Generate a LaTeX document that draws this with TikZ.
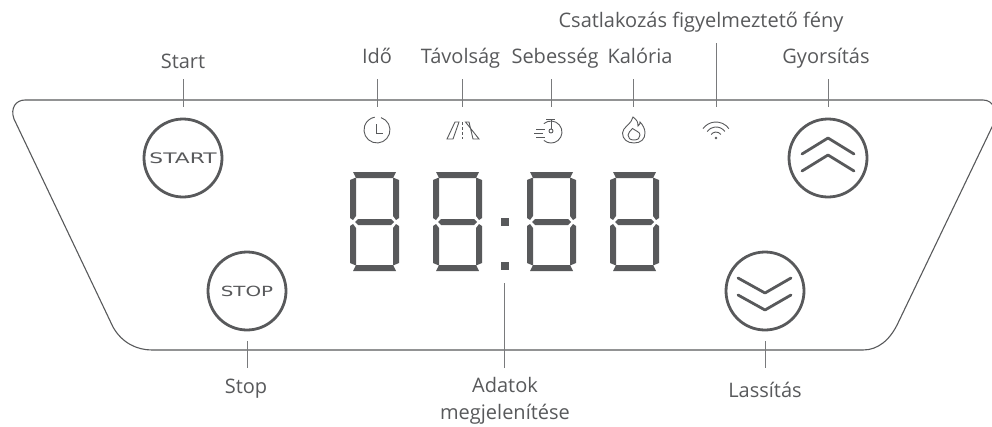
\documentclass[tikz,border=0pt]{standalone}
\usepackage{fontspec}
\setmainfont{Open Sans}
\usetikzlibrary{positioning, calc}
\definecolor{panelgray}{HTML}{58595B}

\tikzset{
    lbl/.style={text=panelgray, inner sep=0pt, text height=15pt, text depth=4pt, font=\fontsize{20}{27}\selectfont},
    leader/.style={draw=panelgray!80, line width=0.9pt},
    btn/.style={circle, draw=panelgray, line width=2.8pt, minimum size=78pt, inner sep=0pt, text=panelgray},
    icon/.style={draw=panelgray, line width=0.9pt},
    chevron/.style={draw=panelgray, line width=2.8pt, line cap=round, line join=round},
    seg/.style={fill=panelgray},
    pics/segdigit/.style={code={
        \fill[seg] (3,0) -- (46,0) -- (43,6) -- (6,6) -- cycle;
        \fill[seg] (0,8) -- (6,5.5) -- (6,44) -- (3,48) -- (0,46) -- cycle;
        \fill[seg] (49,8) -- (43,5.5) -- (43,44) -- (46,48) -- (49,46) -- cycle;
        \fill[seg] (5,50) -- (8,47) -- (41,47) -- (44,50) -- (41,53) -- (8,53) -- cycle;
        \fill[seg] (0,91) -- (6,93.5) -- (6,56) -- (3,52) -- (0,54) -- cycle;
        \fill[seg] (49,91) -- (43,93.5) -- (43,56) -- (46,52) -- (49,54) -- cycle;
        \fill[seg] (3,99) -- (46,99) -- (43,93) -- (6,93) -- cycle;
    }}
}

\begin{document}
\begin{tikzpicture}[x=1pt, y=-1pt]
    \useasboundingbox (0,0) rectangle (992,426);
    \clip (0,0) rectangle (992,426);

    % panel
    \draw[panelgray, line width=1.1pt] (25,100) .. controls (16,100) and (10,108) .. (14,119)
        -- (113,327) .. controls (122,343) and (137,350) .. (152,350)
        -- (863,350) .. controls (878,350) and (890,340) .. (898,323)
        -- (993,125) .. controls (998,112) and (994,100) .. (983,100) -- cycle;

    % buttons
    \node[btn] (btnStart) at (183,158) {\fontspec{DejaVu Sans}\fontsize{14.5}{16}\selectfont\scalebox{1.5}[1]{START}};
    \node[btn] (btnStop) at (247,291) {\fontspec{DejaVu Sans}\fontsize{14}{16}\selectfont\scalebox{1.42}[1]{STOP}};
    \node[btn] (btnUp) at (828,158) {};
    \node[btn] (btnDown) at (765,291) {};

    \draw[chevron] (802,154) -- (828,138) -- (854,154);
    \draw[chevron] (802,171) -- (828,155) -- (854,171);
    \draw[chevron] (738,278) -- (765,293) -- (791,278);
    \draw[chevron] (738,295) -- (765,310) -- (791,295);

    % display
    \pic at (350,172) {segdigit};
    \pic at (433,172) {segdigit};
    \pic at (527,172) {segdigit};
    \pic at (610,172) {segdigit};
    \fill[seg] (501,218) rectangle (508.5,225.5);
    \fill[seg] (501,262) rectangle (508.5,269.5);

    % icons
    \draw[icon] (381,117.6) arc[start angle=72, end angle=-260, radius=13pt];
    \draw[icon] (376,124) -- (376,133) -- (383,133);

    \draw[icon] (447,139) -- (453,139) -- (459,122) -- (455,122) -- cycle;
    \draw[icon] (479,139) -- (473,139) -- (469,122) -- (465.5,122) -- cycle;
    \draw[icon, dash pattern=on 3pt off 2pt] (462.5,122) -- (462.5,139);

    \draw[icon] (543.9,123.6) arc[start angle=130, end angle=-130, radius=11pt];
    \draw[icon] (546,119) -- (555,119);
    \draw[icon] (551,119) -- (551,129);
    \draw[icon] (551,131) circle[radius=2pt];
    \draw[icon] (536,129) -- (545,129);
    \draw[icon] (534,133) -- (543,133);
    \draw[icon] (536,137) -- (545,137);

    \draw[icon] (634,143) .. controls (627,143) and (622.5,139) .. (622.5,133)
        .. controls (622.5,127) and (632,124) .. (633,117)
        .. controls (637,120) and (638,122) .. (638,126)
        .. controls (640,125) and (640,123) .. (640,122)
        .. controls (643,125) and (645,129) .. (645,133)
        .. controls (645,139) and (641,143) .. (634,143) -- cycle;
    \draw[icon] (634,140) .. controls (630,140) and (628,138) .. (628,135)
        .. controls (628,132) and (631,131) .. (632.5,128.5)
        .. controls (636,131) and (640,132) .. (640,135)
        .. controls (640,138) and (638,140) .. (634,140) -- cycle;

    \draw[icon] (728.9,128.6) arc[start angle=36, end angle=144, radius=16pt];
    \draw[icon] (724.9,131.5) arc[start angle=36, end angle=144, radius=11pt];
    \draw[icon] (720.9,134.5) arc[start angle=36, end angle=144, radius=6pt];
    \fill[panelgray] (716,138) circle[radius=1.3pt];

    % labels
    \node[lbl, anchor=base] (lblStart) at (183,68) {Start};
    \node[lbl, anchor=base] (lblIdo) at (377,63) {Idő};
    \node[lbl, anchor=base] (lblTav) at (460.5,63) {Távolság};
    \node[lbl, anchor=base] (lblSeb) at (555,63) {Sebesség};
    \node[lbl, anchor=base] (lblKal) at (640,63) {Kalória};
    \node[lbl, anchor=base] (lblFeny) at (701,27) {Csatlakozás figyelmeztető fény};
    \node[lbl, anchor=base] (lblGyors) at (826,63) {Gyorsítás};
    \node[lbl, anchor=base] (lblStop) at (246,393) {Stop};
    \node[lbl, anchor=base] (lblLass) at (765,397) {Lassítás};
    \node[lbl, align=center, anchor=north] (lblAdat) at (505,404) {Adatok\\megjelenítése};

    % leaders
    \coordinate (tipStart) at (183,107);
    \coordinate (tipIdo) at (377,107);
    \coordinate (tipTav) at (462,107);
    \coordinate (tipSeb) at (551,107);
    \coordinate (tipKal) at (633,107);
    \coordinate (tipFeny) at (716,107);
    \coordinate (tipGyors) at (828,107);
    \coordinate (tipStop) at (247,341);
    \coordinate (tipAdat) at (504,283);
    \coordinate (tipLass) at (765,341);

    \draw[leader] ([yshift=-7pt]lblStart.south -| tipStart) -- (tipStart);
    \draw[leader] ([yshift=-12pt]lblIdo.south -| tipIdo) -- (tipIdo);
    \draw[leader] ([yshift=-12pt]lblTav.south -| tipTav) -- (tipTav);
    \draw[leader] ([yshift=-12pt]lblSeb.south -| tipSeb) -- (tipSeb);
    \draw[leader] ([yshift=-12pt]lblKal.south -| tipKal) -- (tipKal);
    \draw[leader] ([yshift=-12pt]lblFeny.south -| tipFeny) -- (tipFeny);
    \draw[leader] ([yshift=-12pt]lblGyors.south -| tipGyors) -- (tipGyors);
    \draw[leader] ([yshift=10pt]lblStop.north -| tipStop) -- (tipStop);
    \draw[leader] ([yshift=36pt]lblAdat.north -| tipAdat) -- (tipAdat);
    \draw[leader] ([yshift=14pt]lblLass.north -| tipLass) -- (tipLass);
\end{tikzpicture}
\end{document}
